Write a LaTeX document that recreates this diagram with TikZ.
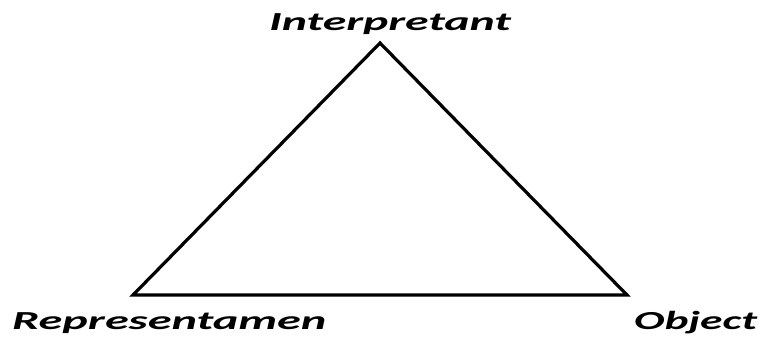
\documentclass[tikz,border=0pt]{standalone}
\usepackage{fontspec}
\setmainfont{Carlito}
\usepackage{graphicx}
\tikzset{
  lbl/.style={inner sep=0pt, font=\fontsize{26}{28}\selectfont\bfseries\itshape},
  tri/.style={line width=3.2pt, line join=miter, black}
}
\begin{document}
\begin{tikzpicture}[x=1pt,y=-1pt]
\useasboundingbox (0,0) rectangle (767,338);
\coordinate (I) at (380,43);
\coordinate (R) at (133,295);
\coordinate (O) at (627,295);
\draw[tri] (I) -- (R) -- (O) -- cycle;
\node[lbl, anchor=base] (ti) at (390,30) {\scalebox{1.84}[1]{Interpretant}};
\node[lbl, anchor=base west] (tr) at (12,329) {\scalebox{1.86}[1]{Representamen}};
\node[lbl, anchor=base west] (to) at (634,329) {\scalebox{1.75}[1]{Object}};
\end{tikzpicture}
\end{document}
